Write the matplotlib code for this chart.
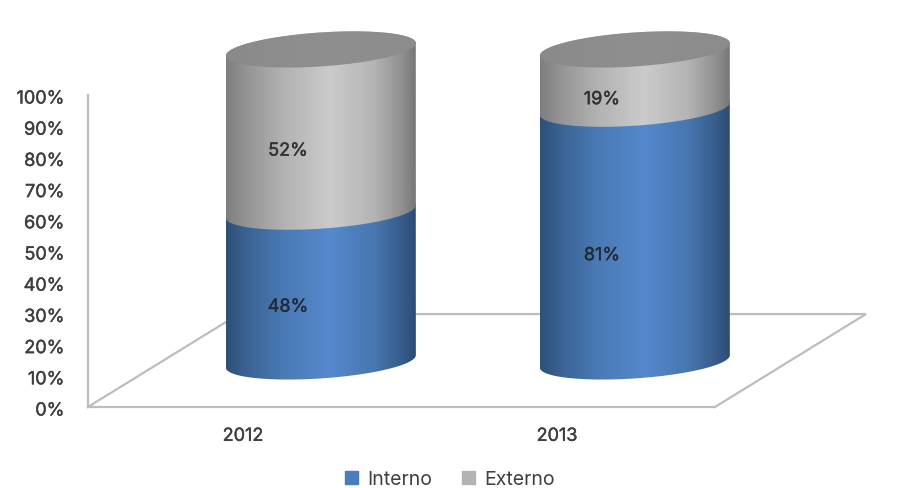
import numpy as np
import matplotlib
matplotlib.use("Agg")
import matplotlib.pyplot as plt
from matplotlib.path import Path
from matplotlib.patches import Patch
from matplotlib.colors import LinearSegmentedColormap
from matplotlib.transforms import ScaledTranslation
import matplotlib.patheffects as pe

categories = ["2012", "2013"]
interno = [48, 81]
externo = [52, 19]
y_ticks = [0, 10, 20, 30, 40, 50, 60, 70, 80, 90, 100]

TXT = "#3f3f3f"
plt.rcParams["font.family"] = ["Inter", "DejaVu Sans"]
TS = 13

W, H = 921, 489
fig = plt.figure(figsize=(W / 100, H / 100), dpi=100, facecolor="white")
ax = fig.add_axes([0, 0, 1, 1])
sx, sy = 314.0, 3.12          # px per category, px per percent
x0px, y0px = 243.0, 408.0
ax.set_xlim((0 - x0px) / sx, (W - x0px) / sx)
ax.set_ylim((y0px - H) / sy, y0px / sy)
xl, yl = ax.get_xlim(), ax.get_ylim()

# 3D geometry, in axis units
depth_x, depth_y = 0.481, 29.8     # floor depth
cyl_dx, cyl_dy = 0.248, 14.6       # cylinder centre offset from the front plane
rad = 0.3025
ell_b, ell_s = 5.45, 2.0
left, right = -0.494, 1.503

blue = LinearSegmentedColormap.from_list("b", [(0, "#2f5079"), (.12, "#3c6496"), (.3, "#4a7ab5"),
                                               (.55, "#5589cd"), (.78, "#4877b0"), (.93, "#365c8a"), (1, "#2d4c74")])
gray = LinearSegmentedColormap.from_list("g", [(0, "#7e7e7e"), (.12, "#969696"), (.3, "#b2b2b2"),
                                               (.55, "#cbcbcb"), (.78, "#b4b4b4"), (.93, "#8f8f8f"), (1, "#777777")])
cap = LinearSegmentedColormap.from_list("c", ["#8a8a8a", "#8f8f8f", "#8c8c8c"])


def arc(cx, cy, t0, t1):
    t = np.linspace(t0, t1, 80)
    return cx + rad * np.cos(t), cy + ell_s * np.cos(t) + ell_b * np.sin(t)


def shaded(path_xy, cx, cmap, z):
    grad = np.linspace(0, 1, 256)[None, :]
    im = ax.imshow(grad, cmap=cmap, aspect="auto", zorder=z, interpolation="bilinear",
                   extent=(cx - rad, cx + rad, yl[0], yl[1]))
    im.set_clip_path(Path(np.column_stack(path_xy)), transform=ax.transData)


# floor
floor_color = "#bdbdbd"
ax.plot([left, left + depth_x, right + depth_x, right],
        [0, depth_y, depth_y, 0], color=floor_color, lw=1.6, zorder=1, solid_joinstyle="miter")

# cylinders
stroke = [pe.withStroke(linewidth=0.3, foreground="#333333")]
for i, (a, b) in enumerate(zip(interno, externo)):
    cx = i + cyl_dx
    y1 = cyl_dy + a
    y2 = y1 + b
    lx, ly = arc(cx, cyl_dy, np.pi, 2 * np.pi)
    ux, uy = arc(cx, y1, 0, np.pi)
    shaded((np.r_[lx, ux], np.r_[ly, uy]), cx, blue, 3)
    lx, ly = arc(cx, y1, np.pi, 2 * np.pi)
    ux, uy = arc(cx, y2, 0, np.pi)
    shaded((np.r_[lx, ux], np.r_[ly, uy]), cx, gray, 4)
    ex, ey = arc(cx, y2, 0, 2 * np.pi)
    shaded((ex, ey), cx, cap, 5)
    ax.text(i + 0.143, a / 2 + 8.0, f"{a}%", ha="center", va="center", fontsize=TS,
            color="#1f2a3a", zorder=6, path_effects=stroke)
    ax.text(i + 0.143, a + b / 2 + 8.0, f"{b}%", ha="center", va="center", fontsize=TS,
            color="#333333", zorder=6, path_effects=stroke)

ax.set_xlim(xl)
ax.set_ylim(yl)

# axes
for s in ("top", "right"):
    ax.spines[s].set_visible(False)
ax.spines["left"].set_position(("data", left))
ax.spines["left"].set_bounds(0, 100)
ax.spines["bottom"].set_position(("data", 0))
ax.spines["bottom"].set_bounds(left, right)
for s in ("left", "bottom"):
    ax.spines[s].set_color(floor_color)
    ax.spines[s].set_linewidth(1.6)
    ax.spines[s].set_zorder(2)
ax.set_yticks(y_ticks)
ax.set_yticklabels([f"{v}%" for v in y_ticks])
ax.set_xticks(range(len(categories)))
ax.set_xticklabels(categories)
ax.tick_params(axis="y", length=0, pad=17, labelsize=TS, labelcolor=TXT)
ax.tick_params(axis="x", length=0, pad=15, labelsize=TS, labelcolor=TXT)
shift = ScaledTranslation(0, -2 / 100, fig.dpi_scale_trans)
for t in ax.get_yticklabels():
    t.set_transform(t.get_transform() + shift)
for t in ax.get_xticklabels() + ax.get_yticklabels():
    t.set_path_effects([pe.withStroke(linewidth=0.3, foreground=TXT)])

leg = ax.legend(handles=[Patch(color="#4a7ebb", label="Interno"), Patch(color="#b3b3b3", label="Externo")],
                ncol=2, frameon=False, loc="center", bbox_to_anchor=(450 / W, 1 - 480 / H),
                bbox_transform=fig.transFigure, fontsize=14, labelcolor=TXT,
                handlelength=0.68, handleheight=0.68, handletextpad=0.5, columnspacing=1.5)
fig.savefig("out.png", dpi=100, facecolor="white")
